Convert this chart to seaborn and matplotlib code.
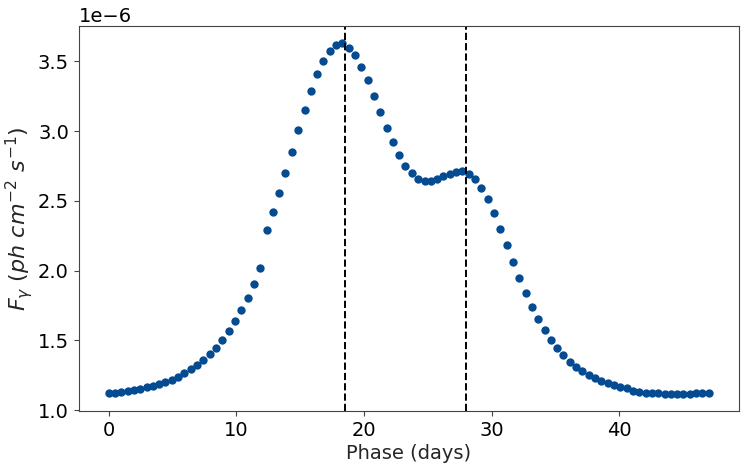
import matplotlib
matplotlib.use("Agg")
import matplotlib.pyplot as plt
import numpy as np
import pandas as pd
import seaborn as sns

# phase (days) of each point
phase = [
    0.00, 0.49, 0.99, 1.48, 1.98, 2.47, 2.97, 3.46, 3.96, 4.45,
    4.95, 5.44, 5.94, 6.43, 6.93, 7.42, 7.92, 8.41, 8.91, 9.40,
    9.89, 10.39, 10.88, 11.38, 11.87, 12.37, 12.86, 13.36, 13.85, 14.35,
    14.84, 15.34, 15.83, 16.33, 16.82, 17.32, 17.81, 18.31, 18.80, 19.29,
    19.79, 20.28, 20.78, 21.27, 21.77, 22.26, 22.76, 23.25, 23.75, 24.24,
    24.74, 25.23, 25.73, 26.22, 26.72, 27.21, 27.71, 28.20, 28.69, 29.19,
    29.68, 30.18, 30.67, 31.17, 31.66, 32.16, 32.65, 33.15, 33.64, 34.14,
    34.63, 35.13, 35.62, 36.12, 36.61, 37.11, 37.60, 38.09, 38.59, 39.08,
    39.58, 40.07, 40.57, 41.06, 41.56, 42.05, 42.55, 43.04, 43.54, 44.03,
    44.53, 45.02, 45.52, 46.01, 46.51, 47.00,
]

# flux in units of 1e-6 ph cm^-2 s^-1
flux_e6 = [
    1.124, 1.127, 1.134, 1.141, 1.148, 1.155, 1.165, 1.174, 1.186, 1.203,
    1.220, 1.241, 1.267, 1.296, 1.325, 1.363, 1.406, 1.449, 1.504, 1.566,
    1.638, 1.716, 1.807, 1.907, 2.019, 2.289, 2.418, 2.557, 2.703, 2.853,
    3.006, 3.151, 3.287, 3.409, 3.505, 3.577, 3.617, 3.631, 3.600, 3.545,
    3.464, 3.366, 3.254, 3.140, 3.025, 2.920, 2.827, 2.753, 2.698, 2.657,
    2.643, 2.643, 2.655, 2.676, 2.696, 2.710, 2.712, 2.696, 2.655, 2.595,
    2.511, 2.413, 2.299, 2.182, 2.065, 1.951, 1.840, 1.743, 1.652, 1.573,
    1.506, 1.446, 1.394, 1.346, 1.310, 1.279, 1.253, 1.229, 1.210, 1.193,
    1.179, 1.167, 1.158, 1.138, 1.131, 1.127, 1.124, 1.122, 1.120, 1.120,
    1.120, 1.120, 1.120, 1.122, 1.124, 1.124,
]

# dashed markers
vlines = [18.5, 28.0]

sns.set_style("ticks")
plt.rcParams["font.family"] = ["DejaVu Sans"]
plt.rcParams["axes.edgecolor"] = "#444444"

df = pd.DataFrame({"phase": phase, "flux": np.array(flux_e6) * 1e-6})

fig = plt.figure(figsize=(7.47, 4.70), dpi=100)
ax = fig.add_axes([0.1053, 0.1255, 0.8836, 0.8198])

sns.scatterplot(data=df, x="phase", y="flux", ax=ax, color="#054b91",
                s=36, linewidth=0, legend=False)
for v in vlines:
    ax.axvline(v, color="black", linestyle="--", linewidth=1.4)

ax.set_xlabel("Phase (days)", fontsize=14, labelpad=3)
ax.set_ylabel(r"$F_\gamma\ (ph\ cm^{-2}\ s^{-1})$", fontsize=16, labelpad=2)
ax.tick_params(labelsize=14, colors="black")
ax.tick_params(axis="both", color="#444444")
ax.yaxis.get_offset_text().set_fontsize(14)
for side in ["top", "right"]:
    ax.spines[side].set_visible(True)

fig.savefig("out.png", dpi=100)
